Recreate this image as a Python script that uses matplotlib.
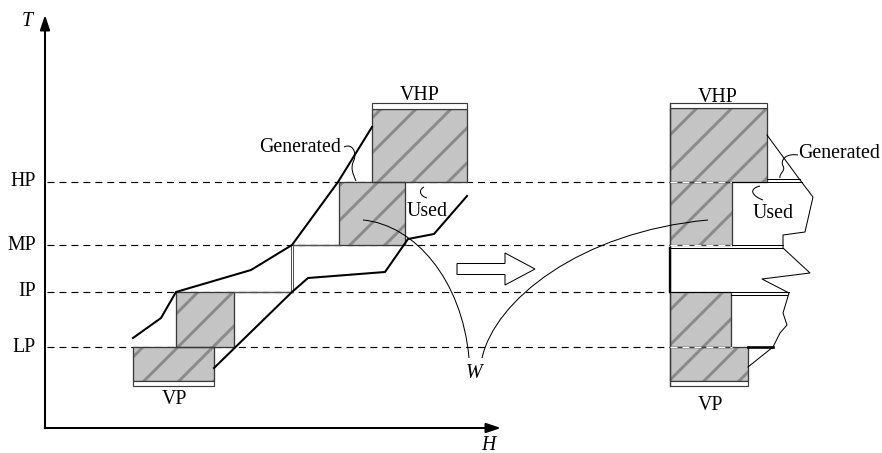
import numpy as np
import matplotlib.pyplot as plt
from matplotlib.patches import Rectangle, Polygon, PathPatch
from matplotlib.path import Path

plt.rcParams['font.family'] = ['Liberation Serif', 'DejaVu Serif']
plt.rcParams['hatch.linewidth'] = 1.0
plt.rcParams['lines.scale_dashes'] = False

# pressure levels (pixel rows of the drawing)
level_names = ['HP', 'MP', 'IP', 'LP']
level_y = [182, 245, 292, 347]

# left diagram: hatched steam boxes (VHP, HP, IP, VP)
left_x0 = [372, 339, 176, 133]
left_x1 = [467, 405, 234, 214]
left_top = [109, 182, 292, 347]
left_bot = [182, 245, 347, 381]

# right diagram: hatched pinch column
right_x0 = [670, 670, 670, 670]
right_x1 = [767, 732, 731, 748]
right_top = [108, 182, 292, 347]
right_bot = [182, 245, 347, 381]

# composite curves, left diagram
gen_x = [133, 161, 176, 251, 292, 338, 372]
gen_y = [338, 318, 292, 270, 245, 182, 127]
used_x = [214, 292, 308, 385, 408, 434, 467]
used_y = [368, 292, 278, 272, 239, 234, 196]

# grand profile, right diagram
prof_x = [767, 800, 813, 805, 783, 783, 810, 762, 789, 783, 787, 780, 773, 748]
prof_y = [135, 180, 197, 232, 235, 248, 273, 279, 293, 313, 325, 333, 347, 367]

DPI = 210
fig = plt.figure(figsize=(882 / DPI, 453 / DPI), dpi=DPI)
ax = fig.add_axes([0, 0, 1, 1])
ax.set_xlim(0, 882)
ax.set_ylim(453, 0)
ax.axis('off')

FS = 6.8
BLK = 0.7
THIN = 0.35
EDGE = '#3a3a3a'


def hatched(x0, x1, top, bot):
    ax.add_patch(Rectangle((x0, top), x1 - x0, bot - top, facecolor='#c4c4c4',
                           edgecolor='#8a8a8a', hatch='//', lw=0, zorder=2))
    ax.add_patch(Rectangle((x0, top), x1 - x0, bot - top, facecolor='none',
                           edgecolor=EDGE, lw=0.45, zorder=2.5))


def strip(x0, x1, top, bot):
    ax.add_patch(Rectangle((x0, top), x1 - x0, bot - top, facecolor='white',
                           edgecolor=EDGE, lw=0.4, zorder=2.5))


def bez(pts, lw=THIN):
    codes = [Path.MOVETO] + [Path.CURVE4] * (len(pts) - 1)
    ax.add_patch(PathPatch(Path(pts, codes), facecolor='none', edgecolor='k',
                           lw=lw, zorder=4))


# axes arrows
arrow = dict(arrowstyle='-|>,head_length=0.6,head_width=0.2', color='k',
             lw=BLK, mutation_scale=7, shrinkA=0, shrinkB=0)
ax.annotate('', xy=(45, 15), xytext=(45, 428.3), arrowprops=arrow)
ax.annotate('', xy=(501, 428), xytext=(44.7, 428), arrowprops=arrow)
ax.text(27, 22, 'T', fontsize=FS, style='italic', ha='center', va='center')
ax.text(488, 445, 'H', fontsize=FS, style='italic', ha='center', va='center')

# dashed level lines
for name, y in zip(level_names, level_y):
    ax.plot([47, 670], [y, y], color='k', lw=0.4, dashes=(2.4, 1.7), zorder=1)
    ax.plot([670, 732], [y, y], color='white', lw=0.4, dashes=(2.4, 1.7), zorder=3)
    ax.text(36, y, name, fontsize=FS, ha='right', va='center')

# left boxes
for x0, x1, t, b in zip(left_x0, left_x1, left_top, left_bot):
    hatched(x0, x1, t, b)
strip(left_x0[0], left_x1[0], 103, left_top[0])
strip(left_x0[3], left_x1[3], left_bot[3], 386)
# zero width IP->MP step
ax.plot([left_x1[2], 292], [292, 292], color='#555555', lw=0.5, zorder=2.6)
ax.plot([292, left_x0[1]], [245, 245], color='#555555', lw=0.5, zorder=2.6)
ax.add_patch(Rectangle((290.6, 245), 2.8, 47, facecolor='white',
                       edgecolor='#555555', lw=0.35, zorder=2.6))

ax.plot(gen_x, gen_y, color='k', lw=BLK, zorder=3)
ax.plot(used_x, used_y, color='k', lw=BLK, zorder=3)

# right column
for x0, x1, t, b in zip(right_x0, right_x1, right_top, right_bot):
    hatched(x0, x1, t, b)
strip(670, right_x1[0], 103, right_top[0])
strip(670, right_x1[3], right_bot[3], 386)
ax.plot([670, 670], [103, 386], color=EDGE, lw=0.45, zorder=2.6)
ax.plot([670, 670], [248, 292], color='k', lw=0.8, zorder=2.7)

ax.plot(prof_x, prof_y, color='k', lw=THIN, zorder=3)
ax.plot([767, 800], [178.5, 178.5], color='k', lw=THIN, zorder=3)
ax.plot([732, 802], [182, 182], color='k', lw=THIN, zorder=3)
ax.plot([732, 783], [245, 245], color='k', lw=THIN, zorder=3)
ax.plot([670, 783], [248, 248], color='k', lw=THIN, zorder=3)
ax.plot([670, 789], [292, 292], color='k', lw=THIN, zorder=3)
ax.plot([731, 787], [295, 295], color='k', lw=THIN, zorder=3)
ax.plot([748, 773], [347, 347], color='k', lw=0.9, zorder=3)

# hollow arrow between diagrams
ax_tail, ax_tip, ax_neck, ax_cy = 457, 535, 505, 269
ax.add_patch(Polygon([(ax_tail, ax_cy - 5.5), (ax_neck, ax_cy - 5.5), (ax_neck, ax_cy - 16),
                      (ax_tip, ax_cy), (ax_neck, ax_cy + 16), (ax_neck, ax_cy + 5.5),
                      (ax_tail, ax_cy + 5.5)], closed=True, facecolor='white',
                     edgecolor='k', lw=THIN, zorder=3))

# W leaders
bez([(363, 220), (415, 225), (462, 280), (469, 358)])
bez([(482, 358), (495, 300), (580, 232), (708, 220)])
ax.text(474, 373, 'W', fontsize=FS, style='italic', ha='center', va='center')

# labels and squiggles
ax.text(420, 96, 'VHP', fontsize=FS, ha='center', va='center')
ax.text(174, 400, 'VP', fontsize=FS, ha='center', va='center')
ax.text(341, 148, 'Generated', fontsize=FS, ha='right', va='center')
ax.text(427, 211, 'Used', fontsize=FS, ha='center', va='center')
bez([(344, 147), (352, 143), (357, 152), (354, 160),
     (350, 168), (353, 174), (356, 181)])
bez([(424, 187), (418, 190), (420, 196), (427, 198)])

ax.text(718, 97, 'VHP', fontsize=FS, ha='center', va='center')
ax.text(710, 405, 'VP', fontsize=FS, ha='center', va='center')
ax.text(798, 154, 'Generated', fontsize=FS, ha='left', va='center')
ax.text(773, 213, 'Used', fontsize=FS, ha='center', va='center')
bez([(798, 155), (786, 153), (780, 160), (783, 166),
     (786, 171), (779, 173), (780, 178)])
bez([(760, 186), (748, 189), (752, 196), (763, 200)])

fig.savefig('out.png', dpi=DPI)
